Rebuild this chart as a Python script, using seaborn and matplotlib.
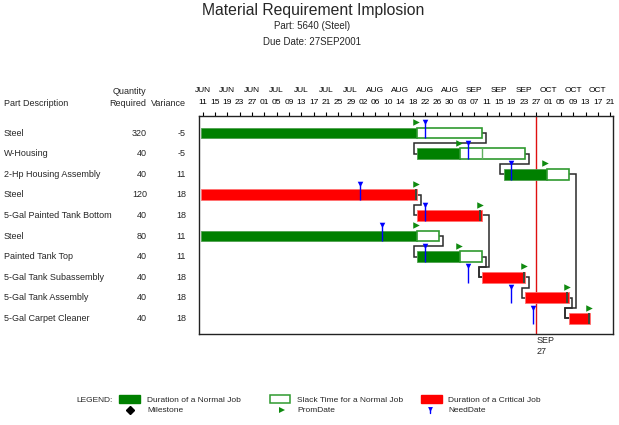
import pandas as pd
import seaborn as sns
import matplotlib.pyplot as plt
from matplotlib.patches import Rectangle
from matplotlib.transforms import blended_transform_factory

# ----------------------------
# Data
# ----------------------------
parts = ["Steel", "W-Housing", "2-Hp Housing Assembly", "Steel", "5-Gal Painted Tank Bottom",
         "Steel", "Painted Tank Top", "5-Gal Tank Subassembly", "5-Gal Tank Assembly",
         "5-Gal Carpet Cleaner"]
quantity = [320, 40, 40, 120, 40, 80, 40, 40, 40, 40]
variance = [-5, -5, 11, 18, 18, 11, 11, 18, 18, 18]
start = ["2001-06-11", "2001-08-20", "2001-09-17", "2001-06-11", "2001-08-20",
         "2001-06-11", "2001-08-20", "2001-09-10", "2001-09-24", "2001-10-08"]
finish = ["2001-08-19", "2001-09-02", "2001-09-30", "2001-08-19", "2001-09-09",
          "2001-08-19", "2001-09-02", "2001-09-23", "2001-10-07", "2001-10-14"]
late_finish = ["2001-09-09", "2001-09-23", "2001-10-07", None, None,
               "2001-08-26", "2001-09-09", None, None, None]
slack_split = [None, "2001-09-09", None, None, None, None, None, None, None, None]
prom_date = ["2001-08-19", "2001-09-02", "2001-09-30", "2001-08-19", "2001-09-09",
             "2001-08-19", "2001-09-02", "2001-09-23", "2001-10-07", "2001-10-14"]
need_date = ["2001-08-22", "2001-09-05", "2001-09-19", "2001-08-01", "2001-08-22",
             "2001-08-08", "2001-08-22", "2001-09-05", "2001-09-19", "2001-09-26"]
critical = [False, False, False, True, True, False, False, True, True, True]
# precedence links (predecessor row, successor row)
links = [(0, 1), (1, 2), (2, 9), (3, 4), (4, 7), (5, 6), (6, 7), (7, 8), (8, 9)]
due_date = "2001-09-27"
axis_start = "2001-06-11"
axis_end = "2001-10-21"
tick_step = 4

t0 = pd.Timestamp(axis_start)


def day(d):
    return (pd.Timestamp(d) - t0).days


df = pd.DataFrame({"part": parts, "row": range(len(parts)),
                   "start": [day(d) for d in start],
                   "end": [day(d) + 1 for d in finish],
                   "prom": [day(d) + 0.5 for d in prom_date],
                   "need": [day(d) + 0.5 for d in need_date],
                   "critical": critical})
df["late_end"] = [day(d) + 1 if d else None for d in late_finish]
df["bar_end"] = df[["end", "late_end"]].max(axis=1)

# ----------------------------
# Style
# ----------------------------
sns.set_theme(style="white")
plt.rcParams["font.family"] = ["Liberation Sans", "DejaVu Sans"]
FS = 6.5

GREEN = "#008000"
RED = "#ff0000"
BLUE = "#0000ff"
W, H = 619, 425

fig = plt.figure(figsize=(W / 100, H / 100), dpi=100)
ax = fig.add_axes([198.5 / W, 1 - 334 / H, (613 - 198.5) / W, (334 - 116) / H])

bar_h = 0.53

# Normal job duration + slack, critical job duration
for r in df.itertuples():
    color = RED if r.critical else GREEN
    edge = "#ff7070" if r.critical else "#4fa04f"
    ax.barh(r.row, r.end - r.start, left=r.start, height=bar_h, color=color,
            edgecolor=edge, linewidth=0.6, zorder=3)
    if pd.notna(r.late_end):
        ax.barh(r.row, r.late_end - r.end, left=r.end, height=bar_h, color="white",
                edgecolor="#2f9a2f", linewidth=1.2, zorder=3)
    if slack_split[r.row]:
        xs = day(slack_split[r.row]) + 1
        ax.vlines(xs, r.row - bar_h / 2, r.row + bar_h / 2, color="#5fb05f", lw=1.0, zorder=4)
    if r.critical:
        ax.vlines(r.prom, r.row - bar_h / 2, r.row + bar_h / 2, color="#3a4a3a", lw=1.4, zorder=4)

# NeedDate markers: blue line through bar height + flag
ax.vlines(df["need"], df["row"] - 0.5, df["row"] + bar_h / 2, color=BLUE, lw=1.0, zorder=5)
sns.scatterplot(data=df, x="need", y=df["row"] - 0.52, marker="v", color=BLUE, s=16,
                linewidth=0, ax=ax, zorder=6, legend=False)

# PromDate markers
sns.scatterplot(data=df, x="prom", y=df["row"] - 0.52, marker=">", color="#108a10", s=22,
                linewidth=0, ax=ax, zorder=6, legend=False)

# Precedence connectors
succ_preds = {}
for p, s in links:
    succ_preds.setdefault(s, []).append(p)
for p, s in links:
    far = len(succ_preds[s]) > 1 and p == min(succ_preds[s])
    dx = 2.3 if far else 1.2
    x0 = df.loc[p, "bar_end"]
    x1 = df.loc[s, "start"]
    xs = [x0, x0 + dx, x0 + dx, x1 - 1.1, x1 - 1.1, x1]
    ys = [p, p, s - 0.5, s - 0.5, s, s]
    ax.plot(xs, ys, color="#2a2a2a", lw=1.1, zorder=2, solid_joinstyle="miter")

# Due date reference line
due = day(due_date) + 0.5
ax.axvline(due, color="#e01010", lw=1.0, zorder=1)
ax.text(due, 9.85, "SEP\n27", ha="left", va="top", fontsize=FS, linespacing=1.3,
        clip_on=False)

# Axes / ticks (month shown on every other tick)
ax.set_xlim(-0.8, 133.4)
ax.set_ylim((334 - 133) / 20.6, (116 - 133) / 20.6)
ticks = list(range(0, day(axis_end) + 1, tick_step))
tick_dates = [t0 + pd.Timedelta(days=t) for t in ticks]
tick_labels = []
for i, d in enumerate(tick_dates):
    if i % 2 == 0:
        tick_labels.append(f"{d.strftime('%b').upper()}\n{d.day:02d}")
    else:
        tick_labels.append(f"{d.day:02d}")
ax.set_xticks([t + 0.5 for t in ticks])
ax.set_xticklabels(tick_labels, fontsize=6, linespacing=1.9)
ax.xaxis.tick_top()
ax.tick_params(axis="x", top=True, bottom=False, length=3, width=0.8, direction="out",
               pad=4.5, colors="black")
ax.set_yticks([])
ax.set_xlabel("")
ax.set_ylabel("")
for sp in ax.spines.values():
    sp.set_color("#222222")
    sp.set_linewidth(1.0)

# Left-side table columns
trans = blended_transform_factory(fig.transFigure, ax.transData)
for r in df.itertuples():
    ax.text(4 / W, r.row, r.part, transform=trans, ha="left", va="center", fontsize=FS,
            clip_on=False)
    ax.text(147 / W, r.row, str(quantity[r.row]), transform=trans, ha="right", va="center",
            fontsize=FS, clip_on=False)
    ax.text(186 / W, r.row, str(variance[r.row]), transform=trans, ha="right", va="center",
            fontsize=FS, clip_on=False)

fig.text(4 / W, 1 - 103 / H, "Part Description", ha="left", va="center", fontsize=FS)
fig.text(146 / W, 1 - 92 / H, "Quantity", ha="right", va="center", fontsize=FS)
fig.text(146 / W, 1 - 103 / H, "Required", ha="right", va="center", fontsize=FS)
fig.text(186 / W, 1 - 103 / H, "Variance", ha="right", va="center", fontsize=FS)

# Titles
fig.text(313 / W, 1 - 10 / H, "Material Requirement Implosion", ha="center", va="center",
         fontsize=11.3)
fig.text(312 / W, 1 - 26 / H, "Part: 5640 (Steel)", ha="center", va="center", fontsize=7)
fig.text(312 / W, 1 - 42 / H, "Due Date: 27SEP2001", ha="center", va="center", fontsize=7)

# ----------------------------
# Legend (drawn in pixel space)
# ----------------------------
lax = fig.add_axes([0, 0, 1, 1])
lax.set_xlim(0, W)
lax.set_ylim(H, 0)
lax.axis("off")
lax.patch.set_alpha(0)
LFS = 6
lax.text(113, 400, "LEGEND:", ha="right", va="center", fontsize=LFS)
lax.add_patch(Rectangle((119, 395), 21, 8, facecolor=GREEN, edgecolor=GREEN))
lax.add_patch(Rectangle((270, 395), 20, 8, facecolor="white", edgecolor="#2f9a2f", lw=1.1))
lax.add_patch(Rectangle((421, 395), 21, 8, facecolor=RED, edgecolor=RED))
lax.plot([130], [410], marker="D", color="black", ms=4)
lax.plot([282], [410], marker=">", color="#108a10", ms=4, mew=0)
lax.plot([430], [409], marker="v", color=BLUE, ms=3.5, mew=0)
lax.plot([430, 430], [409, 413], color=BLUE, lw=1)
lax.text(147, 400, "Duration of a Normal Job", ha="left", va="center", fontsize=LFS)
lax.text(147, 410, "Milestone", ha="left", va="center", fontsize=LFS)
lax.text(297, 400, "Slack Time for a Normal Job", ha="left", va="center", fontsize=LFS)
lax.text(297, 410, "PromDate", ha="left", va="center", fontsize=LFS)
lax.text(448, 400, "Duration of a Critical Job", ha="left", va="center", fontsize=LFS)
lax.text(448, 410, "NeedDate", ha="left", va="center", fontsize=LFS)

fig.savefig("out.png", dpi=100)
